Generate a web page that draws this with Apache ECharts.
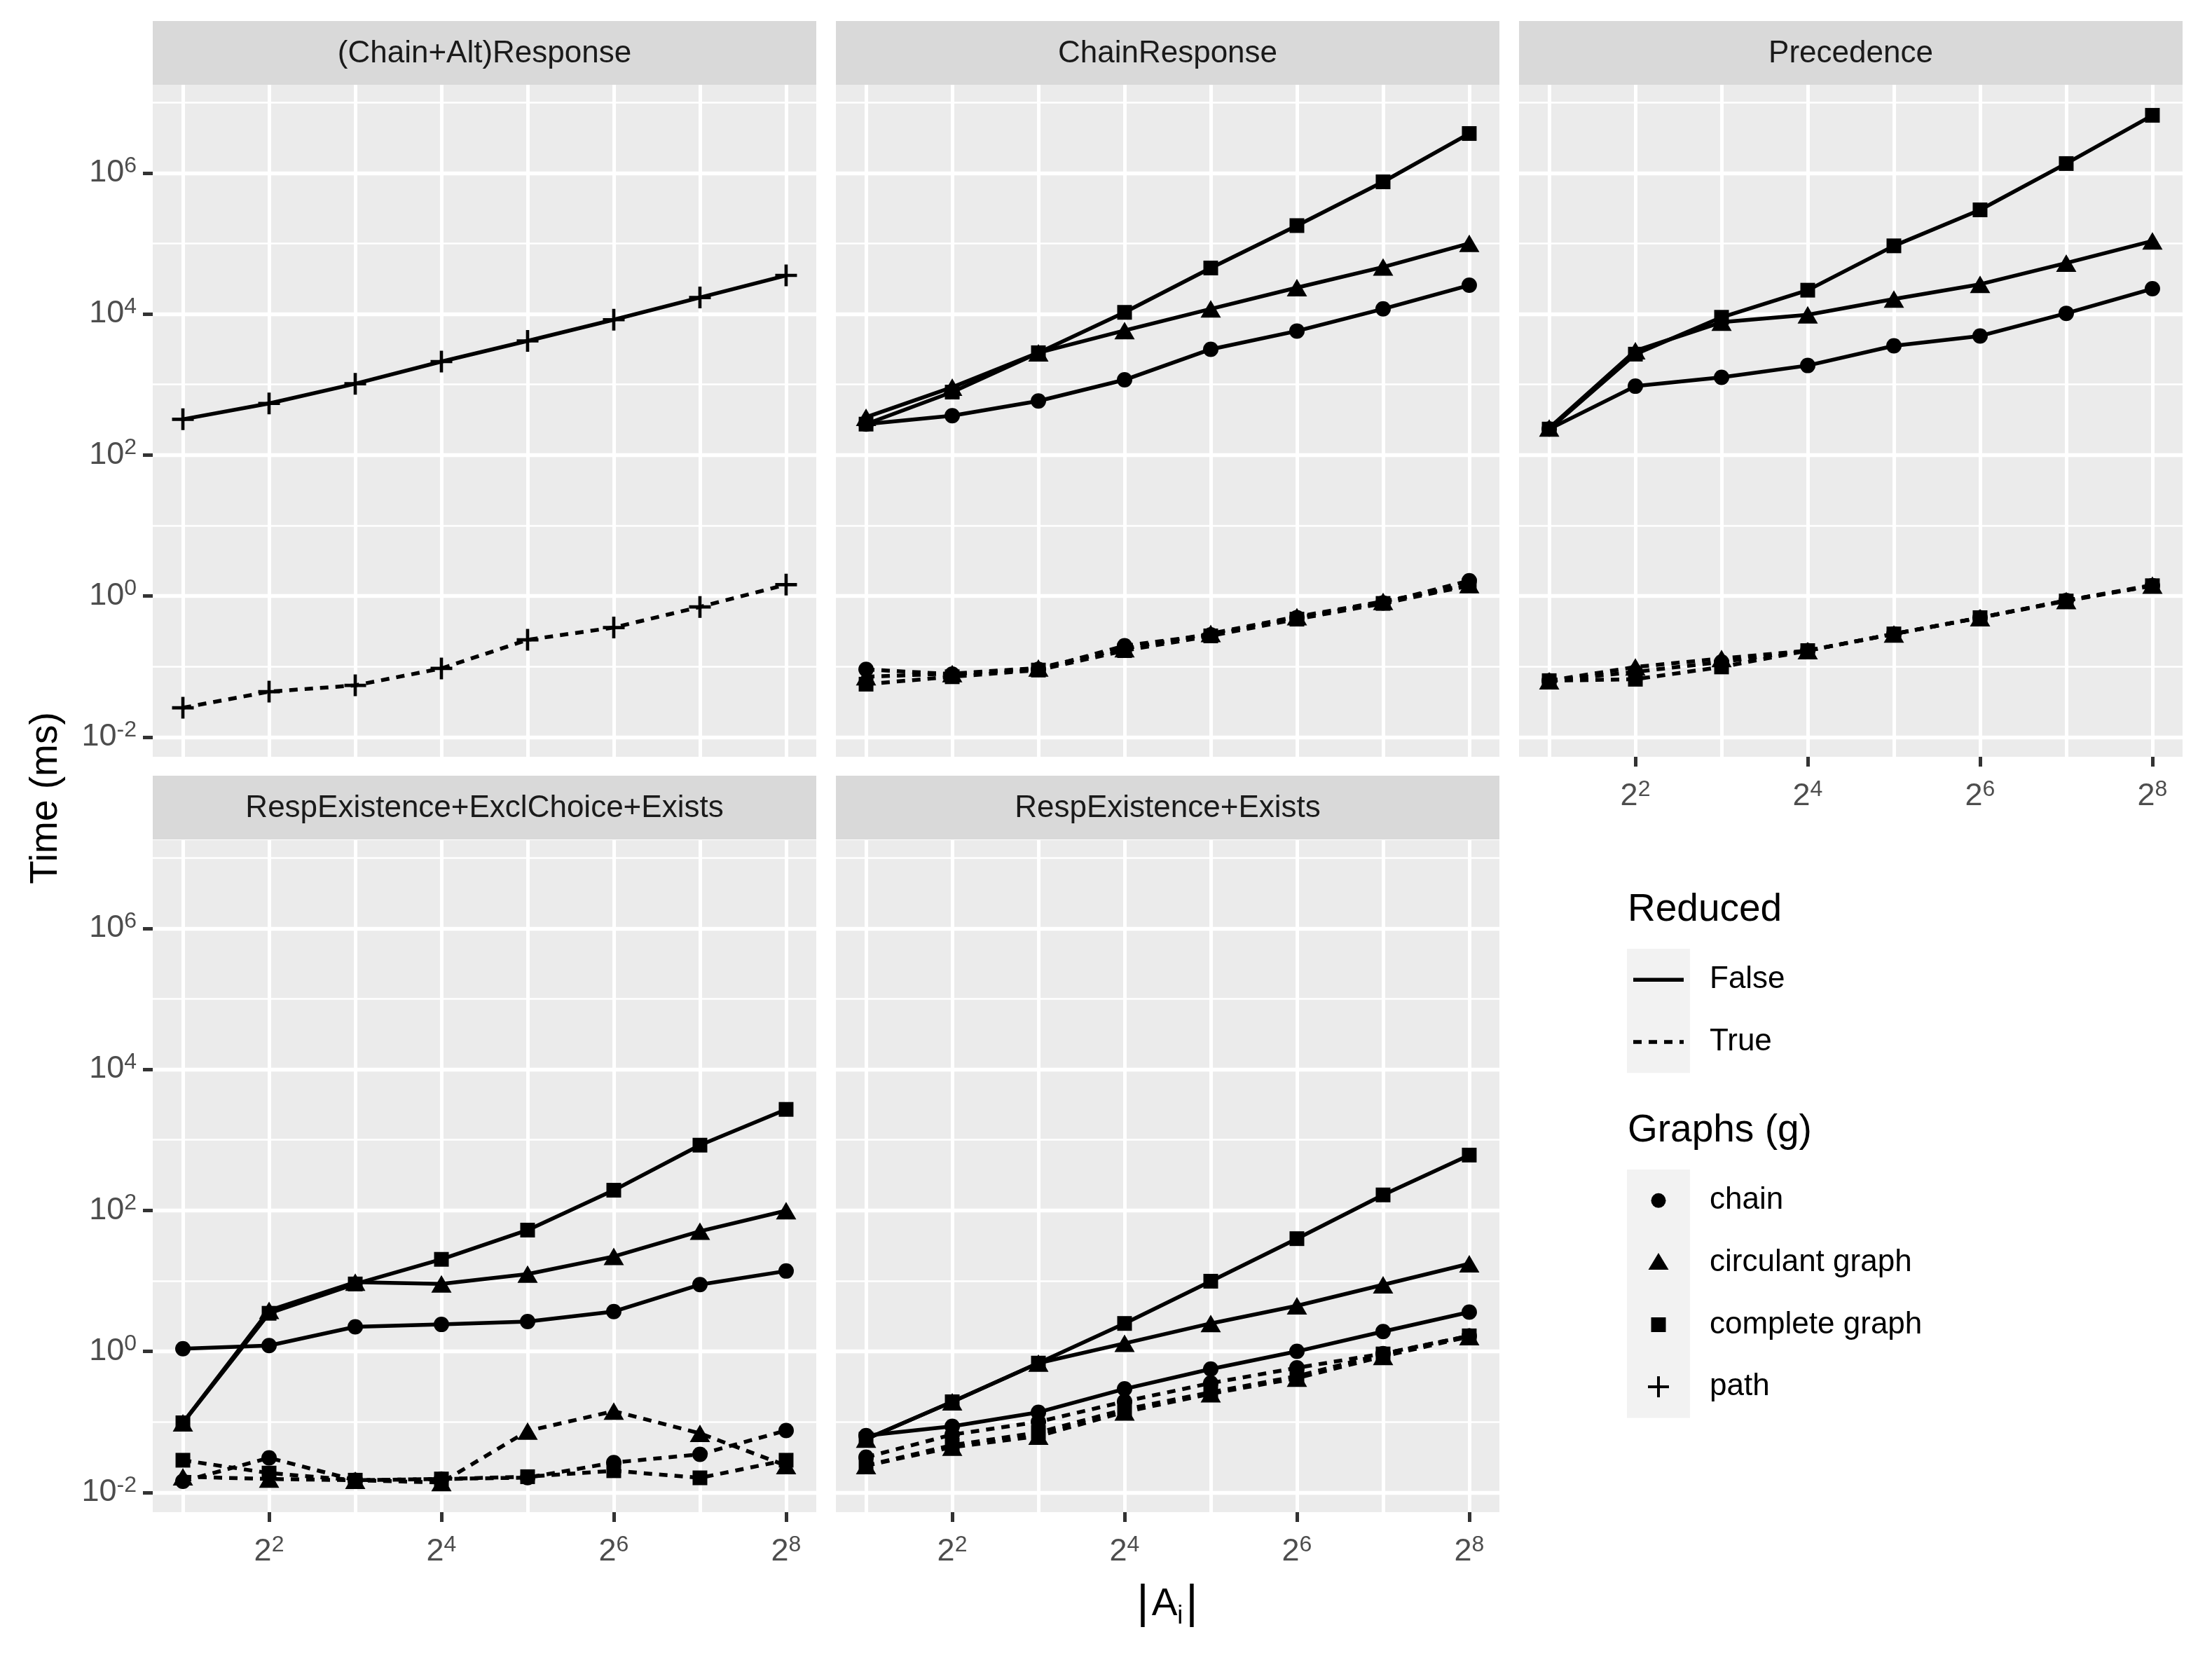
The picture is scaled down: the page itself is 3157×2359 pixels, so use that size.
<!DOCTYPE html>
<html><head><meta charset="utf-8">
<script src="https://cdn.jsdelivr.net/npm/echarts@6/dist/echarts.min.js"></script>
<style>html,body{margin:0;padding:0;background:#fff}#c{width:3157px;height:2359px}</style>
</head><body><div id="c"></div><script>
// ---------- data ----------
const sizes = [2, 4, 8, 16, 32, 64, 128, 256];
const panelTitles = ['(Chain+Alt)Response', 'ChainResponse', 'Precedence', 'RespExistence+ExclChoice+Exists', 'RespExistence+Exists'];
const graphNames = ['chain', 'circulant graph', 'complete graph', 'path'];
const reducedNames = ['False', 'True'];
const yTickValues = [0.01, 1, 100, 1e4, 1e6];
const yMinorValues = [0.1, 10, 1000, 1e5, 1e7];
const xTickValues = [4, 16, 64, 256];
const xGridValues = [2, 4, 8, 16, 32, 64, 128, 256];

// (Chain+Alt)Response
const altPathFalse = [321, 538, 1023, 2113, 4150, 8280, 17100, 35200];
const altPathTrue  = [0.026, 0.044, 0.054, 0.094, 0.239, 0.357, 0.70, 1.45];
// ChainResponse
const crChainFalse = [274, 360, 583, 1164, 3155, 5728, 11800, 25530];
const crCircFalse  = [343, 914, 2818, 5821, 11800, 23600, 46300, 100200];
const crCompFalse  = [274, 780, 2818, 10540, 44870, 179100, 748000, 3622000];
const crChainTrue  = [0.091, 0.078, 0.091, 0.197, 0.281, 0.493, 0.798, 1.65];
const crCircTrue   = [0.0716, 0.0794, 0.0955, 0.179, 0.294, 0.509, 0.838, 1.45];
const crCompTrue   = [0.0562, 0.0716, 0.0891, 0.168, 0.272, 0.470, 0.785, 1.40];
// Precedence
const prChainFalse = [233, 946, 1262, 1858, 3532, 4875, 10210, 22800];
const prCircFalse  = [241, 3006, 7638, 9727, 16290, 26360, 52720, 108600];
const prCompFalse  = [233, 2692, 8974, 21730, 92470, 299200, 1358000, 6561000];
const prChainTrue  = [0.063, 0.084, 0.116, 0.168, 0.29, 0.493, 0.865, 1.40];
const prCircTrue   = [0.063, 0.0986, 0.130, 0.168, 0.29, 0.493, 0.865, 1.43];
const prCompTrue   = [0.063, 0.066, 0.0986, 0.168, 0.29, 0.493, 0.85, 1.40];
// RespExistence+ExclChoice+Exists
const reeChainFalse = [1.09, 1.21, 2.23, 2.41, 2.65, 3.67, 8.85, 13.8];
const reeCircFalse  = [0.097, 3.82, 9.57, 9.04, 12.5, 22.2, 50.6, 98.9];
const reeCompFalse  = [0.097, 3.47, 9.04, 20.2, 52.5, 193, 841, 2704];
const reeChainTrue  = [0.0144, 0.0309, 0.0149, 0.0155, 0.0162, 0.0265, 0.0347, 0.0755];
const reeCircTrue   = [0.0167, 0.0155, 0.0149, 0.0138, 0.0743, 0.142, 0.0689, 0.024];
const reeCompTrue   = [0.0286, 0.0188, 0.0149, 0.0155, 0.0167, 0.0203, 0.0161, 0.0286];
// RespExistence+Exists
const reChainFalse = [0.0638, 0.0865, 0.137, 0.294, 0.562, 1.0, 1.91, 3.61];
const reCircFalse  = [0.0569, 0.193, 0.682, 1.30, 2.49, 4.43, 8.81, 17.5];
const reCompFalse  = [0.0569, 0.193, 0.682, 2.49, 9.89, 39.7, 165.6, 608];
const reChainTrue  = [0.0316, 0.066, 0.1, 0.195, 0.355, 0.585, 0.93, 1.66];
const reCircTrue   = [0.024, 0.0437, 0.063, 0.138, 0.251, 0.417, 0.85, 1.62];
const reCompTrue   = [0.024, 0.0468, 0.0708, 0.150, 0.263, 0.445, 0.92, 1.66];

const panelSeries = [
  [['path', 0, altPathFalse], ['path', 1, altPathTrue]],
  [['chain', 0, crChainFalse], ['circulant graph', 0, crCircFalse], ['complete graph', 0, crCompFalse],
   ['chain', 1, crChainTrue], ['circulant graph', 1, crCircTrue], ['complete graph', 1, crCompTrue]],
  [['chain', 0, prChainFalse], ['circulant graph', 0, prCircFalse], ['complete graph', 0, prCompFalse],
   ['chain', 1, prChainTrue], ['circulant graph', 1, prCircTrue], ['complete graph', 1, prCompTrue]],
  [['chain', 0, reeChainFalse], ['circulant graph', 0, reeCircFalse], ['complete graph', 0, reeCompFalse],
   ['chain', 1, reeChainTrue], ['circulant graph', 1, reeCircTrue], ['complete graph', 1, reeCompTrue]],
  [['chain', 0, reChainFalse], ['circulant graph', 0, reCircFalse], ['complete graph', 0, reCompFalse],
   ['chain', 1, reChainTrue], ['circulant graph', 1, reCircTrue], ['complete graph', 1, reCompTrue]]
];

// ---------- layout / style ----------
const FONT = 'Liberation Sans, Arial, Helvetica, sans-serif';
const PLUS = 'path://M-0.15,-1 L0.15,-1 L0.15,-0.15 L1,-0.15 L1,0.15 L0.15,0.15 L0.15,1 L-0.15,1 L-0.15,0.15 L-1,0.15 L-1,-0.15 L-0.15,-0.15 Z';
const symbolOf = {'chain': 'circle', 'circulant graph': 'triangle', 'complete graph': 'rect', 'path': PLUS};
const symbolSizeOf = {'chain': 22, 'circulant graph': [29, 25], 'complete graph': 21, 'path': 31};

const PW = 947, PH = 959;
const lefts = [218, 1193, 2168, 218, 1193];
const tops = [121, 121, 121, 1199, 1199];
const stripTops = [30, 30, 30, 1107, 1107];
const STRIP_H = 91;
const showXLab = [false, false, true, true, true];
const showYLab = [true, false, false, true, false];

const YMIN = Math.pow(10, -2.28), YMAX = Math.pow(10, 7.25);
const XMIN = Math.pow(2, 0.65), XMAX = Math.pow(2, 8.35);

const richTick = {
  b: {fontSize: 45, lineHeight: 52, color: '#4D4D4D', fontFamily: FONT},
  e: {fontSize: 32, lineHeight: 22, verticalAlign: 'top', color: '#4D4D4D', fontFamily: FONT}
};

const grids = [], xAxes = [], yAxes = [], series = [], graphics = [];
for (let i = 0; i < 5; i++) {
  grids.push({left: lefts[i], top: tops[i], width: PW, height: PH, show: true,
    backgroundColor: '#EBEBEB', borderWidth: 0, containLabel: false});
  xAxes.push({type: 'log', logBase: 2, gridIndex: i, min: XMIN, max: XMAX,
    axisLine: {show: false}, splitLine: {show: false}, minorSplitLine: {show: false},
    axisTick: {show: showXLab[i], length: 14, customValues: xTickValues, lineStyle: {color: '#333333', width: 5}},
    axisLabel: {show: showXLab[i], customValues: xTickValues, margin: 31, color: '#4D4D4D', rich: richTick,
      formatter: v => '{b|2}{e|' + Math.round(Math.log2(v)) + '}'}});
  yAxes.push({type: 'log', logBase: 10, gridIndex: i, min: YMIN, max: YMAX,
    axisLine: {show: false}, splitLine: {show: false}, minorSplitLine: {show: false},
    axisTick: {show: showYLab[i], length: 14, customValues: yTickValues, lineStyle: {color: '#333333', width: 5}},
    axisLabel: {show: showYLab[i], customValues: yTickValues, margin: 23, color: '#4D4D4D', rich: richTick,
      formatter: v => '{b|10}{e|' + Math.round(Math.log10(v)) + '}'}});
  // grid lines through the axes
  const ml = [];
  yTickValues.forEach(v => ml.push({yAxis: v, lineStyle: {width: 5.3}}));
  yMinorValues.forEach(v => ml.push({yAxis: v, lineStyle: {width: 2.7}}));
  xGridValues.forEach(v => ml.push({xAxis: v, lineStyle: {width: 5}}));
  series.push({type: 'line', xAxisIndex: i, yAxisIndex: i, data: [], z: 1, silent: true,
    markLine: {z: 1, silent: true, animation: false, symbol: ['none', 'none'], label: {show: false},
      emphasis: {disabled: true}, lineStyle: {type: 'solid', color: '#FFFFFF', width: 5}, data: ml}});
  panelSeries[i].forEach(([g, r, vals]) => {
    series.push({type: 'line', name: g + ' ' + reducedNames[r], xAxisIndex: i, yAxisIndex: i, z: 3,
      data: sizes.map((s, k) => [s, vals[k]]),
      symbol: symbolOf[g], symbolSize: symbolSizeOf[g], showSymbol: true, silent: true,
      itemStyle: {color: '#000000', borderWidth: 0},
      lineStyle: {color: '#000000', width: 5.5, type: r ? [12, 10] : 'solid', cap: 'butt', join: 'round'},
      emphasis: {disabled: true}, animation: false, clip: false});
  });
  // strip
  graphics.push({type: 'rect', shape: {x: lefts[i], y: stripTops[i], width: PW, height: STRIP_H}, style: {fill: '#D9D9D9'}, silent: true});
  graphics.push({type: 'text', x: lefts[i] + PW / 2, y: stripTops[i] + STRIP_H / 2 + 1,
    style: {text: panelTitles[i], fontSize: 44, fontFamily: FONT, fill: '#1A1A1A', align: 'center', verticalAlign: 'middle'}, silent: true});
}

// axis titles
graphics.push({type: 'text', x: 66, y: 1139, rotation: Math.PI / 2,
  style: {text: 'Time (ms)', fontSize: 55, fontFamily: FONT, fill: '#000', align: 'center', verticalAlign: 'middle'}});
graphics.push({type: 'text', x: 1666, y: 2290,
  style: {text: '{bar||}{a|A}{s|i}{bar||}', align: 'center', verticalAlign: 'middle', fill: '#000',
    rich: {bar: {fontSize: 67, lineHeight: 70, fontFamily: FONT, color: '#000'},
           a: {fontSize: 55, lineHeight: 70, fontFamily: FONT, color: '#000', padding: [0, 0, 0, 4]},
           s: {fontSize: 36, lineHeight: 14, verticalAlign: 'bottom', fontFamily: FONT, color: '#000', padding: [0, 4, 0, 0]}}}});

// legend
const LX = 2322, KW = 90, KH = 88.6, LCX = LX + 45, TX = 2440;
graphics.push({type: 'text', x: 2323, y: 1299, style: {text: 'Reduced', fontSize: 55, fontFamily: FONT, fill: '#000', align: 'left', verticalAlign: 'middle'}});
graphics.push({type: 'rect', shape: {x: LX, y: 1354, width: KW, height: KH * 2}, style: {fill: '#F2F2F2'}});
reducedNames.forEach((nm, k) => {
  const cy = 1354 + KH * (k + 0.5);
  graphics.push({type: 'line', shape: {x1: LX + 9, y1: cy, x2: LX + 81, y2: cy},
    style: {stroke: '#000', lineWidth: 5.5, lineDash: k ? [12, 10] : null, lineCap: 'butt'}});
  graphics.push({type: 'text', x: TX, y: cy, style: {text: nm, fontSize: 44, fontFamily: FONT, fill: '#000', align: 'left', verticalAlign: 'middle'}});
});
graphics.push({type: 'text', x: 2323, y: 1614, style: {text: 'Graphs (g)', fontSize: 55, fontFamily: FONT, fill: '#000', align: 'left', verticalAlign: 'middle'}});
graphics.push({type: 'rect', shape: {x: LX, y: 1669, width: KW, height: KH * 4}, style: {fill: '#F2F2F2'}});
graphNames.forEach((nm, k) => {
  const cy = 1669 + KH * (k + 0.5);
  if (k === 0) graphics.push({type: 'circle', shape: {cx: LCX, cy: cy, r: 10.5}, style: {fill: '#000'}});
  if (k === 1) graphics.push({type: 'polygon', shape: {points: [[LCX, cy - 14], [LCX + 14.5, cy + 10], [LCX - 14.5, cy + 10]]}, style: {fill: '#000'}});
  if (k === 2) graphics.push({type: 'rect', shape: {x: LCX - 10.5, y: cy - 10.5, width: 21, height: 21}, style: {fill: '#000'}});
  if (k === 3) {
    graphics.push({type: 'line', shape: {x1: LCX - 15, y1: cy, x2: LCX + 15, y2: cy}, style: {stroke: '#000', lineWidth: 4}});
    graphics.push({type: 'line', shape: {x1: LCX, y1: cy - 15, x2: LCX, y2: cy + 15}, style: {stroke: '#000', lineWidth: 4}});
  }
  graphics.push({type: 'text', x: TX, y: cy, style: {text: nm, fontSize: 44, fontFamily: FONT, fill: '#000', align: 'left', verticalAlign: 'middle'}});
});

const chart = echarts.init(document.getElementById('c'), null, {renderer: 'canvas'});
chart.setOption({
  animation: false,
  backgroundColor: '#FFFFFF',
  grid: grids, xAxis: xAxes, yAxis: yAxes, series: series, graphic: graphics
});
</script></body></html>
